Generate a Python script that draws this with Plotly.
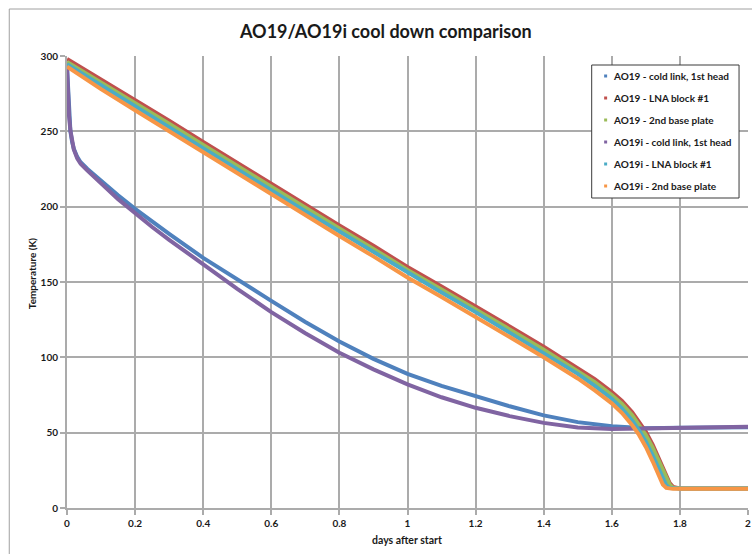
import plotly.graph_objects as go

# ---- data -------------------------------------------------------------
# warm-stage sensors (LNA block #1, 2nd base plate)
days_warm = [0, 0.1, 0.2, 0.3, 0.4, 0.5, 0.6, 0.7, 0.8, 0.9, 1.0, 1.1, 1.2, 1.3,
             1.4, 1.45, 1.5, 1.55, 1.6, 1.63, 1.66, 1.68, 1.7, 1.72, 1.74, 1.75,
             1.76, 1.77, 1.78, 1.79, 1.8, 1.9, 2.0]
ao19_lna = [298, 284.5, 271, 257, 243, 229, 215, 201, 187.5, 174, 160, 147, 134,
            120.5, 107, 100, 93, 85.5, 77, 71, 63.5, 57.5, 50.5, 42, 32, 26.5,
            21, 16.5, 14, 13.2, 13, 13, 13]
ao19_base = [296, 282.5, 269, 255, 241, 227, 213, 199, 185.5, 172, 158, 145, 132,
             118.5, 105, 98, 91, 83.5, 75, 69, 61.5, 55.5, 48.5, 40, 30, 25,
             19.5, 15.5, 13.5, 13.1, 13, 13, 13]
ao19i_lna = [294.5, 280.5, 267, 253, 239, 225, 211, 197, 183.5, 170, 156, 143, 130,
             116.5, 103, 96, 89, 81, 72.5, 66, 58, 51.5, 44, 35, 24.5, 19.5,
             15, 13.3, 13, 13, 13, 13, 13]
ao19i_base = [293, 278, 264, 250, 236, 222, 208, 194, 180.5, 167, 153, 140, 127,
              113.5, 100, 93, 86, 78, 69.5, 63, 55, 48.5, 40.5, 31, 20, 15.5,
              13.3, 12.8, 12.7, 12.7, 12.7, 12.7, 12.7]

# cold link, 1st head
days_cold = [0, 0.003, 0.006, 0.01, 0.015, 0.02, 0.03, 0.04, 0.06, 0.08, 0.1,
             0.15, 0.2, 0.25, 0.3, 0.4, 0.5, 0.6, 0.7, 0.8, 0.9, 1.0, 1.1, 1.2,
             1.3, 1.4, 1.5, 1.6, 1.7, 1.8, 1.9, 2.0]
ao19_cold = [293, 275, 260, 250, 243, 238.5, 233, 229.5, 225, 221, 217, 207.5,
             198.5, 190, 182, 166, 151.5, 137.5, 123.5, 110.5, 99, 89, 81, 74,
             67.5, 61.5, 57, 54.2, 53, 53.2, 53.4, 53.6]
ao19i_cold = [293, 275, 260, 250.5, 242.5, 238, 232, 228.5, 224, 220, 215.5, 205,
              195.5, 186.5, 178, 161.5, 145.5, 130, 116, 103, 92, 82, 73.5, 66.5,
              61, 56.5, 53.5, 52.5, 53, 53.3, 53.6, 54]

series_names = ["AO19 - cold link, 1st head", "AO19 - LNA block #1",
                "AO19 - 2nd base plate", "AO19i - cold link, 1st head",
                "AO19i - LNA block #1", "AO19i - 2nd base plate"]
series_colors = ["#4F81BD", "#C0504D", "#9BBB59", "#8064A2", "#4BACC6", "#F79646"]
series_x = [days_cold, days_warm, days_warm, days_cold, days_warm, days_warm]
series_y = [ao19_cold, ao19_lna, ao19_base, ao19i_cold, ao19i_lna, ao19i_base]

x_ticks = [0, 0.2, 0.4, 0.6, 0.8, 1, 1.2, 1.4, 1.6, 1.8, 2]
x_ticklabels = ["0", "0.2", "0.4", "0.6", "0.8", "1", "1.2", "1.4", "1.6", "1.8", "2"]
y_ticks = [0, 50, 100, 150, 200, 250, 300]

# ---- layout geometry (pixels) ----------------------------------------
W, H = 752, 554
L, R, T, B = 67, 1, 56, 46
PW, PH = W - L - R, H - T - B


def px(xp):
    return (xp - L) / PW


def py(yp):
    return (H - B - yp) / PH


FONT = "Lato"
TXT = "#1a1a1a"
GRID = "#ababab"

fig = go.Figure()
for name, color, xs, ys in zip(series_names, series_colors, series_x, series_y):
    fig.add_trace(go.Scatter(x=xs, y=ys, mode="lines", name=name,
                             line=dict(color=color, width=4),
                             showlegend=False))

shapes = [
    # outer chart frame
    dict(type="rect", xref="paper", yref="paper",
         x0=px(9), x1=px(763), y0=py(565), y1=py(9),
         line=dict(color="#a0a0a0", width=1), fillcolor="rgba(0,0,0,0)",
         layer="below"),
    # legend box
    dict(type="rect", xref="paper", yref="paper",
         x0=px(594), x1=px(742), y0=py(198), y1=py(65),
         line=dict(color="#3a3a3a", width=1), fillcolor="white", layer="above"),
]
annotations = []
for i, (name, color) in enumerate(zip(series_names, series_colors)):
    yc = 76 + 22 * i
    shapes.append(dict(type="rect", xref="paper", yref="paper",
                       x0=px(606.5), x1=px(609.5), y0=py(yc + 1.5), y1=py(yc - 1.5),
                       line=dict(width=0), fillcolor=color, layer="above"))
    annotations.append(dict(text=name, xref="paper", yref="paper",
                            x=px(613), y=py(yc), xanchor="left", yanchor="middle",
                            showarrow=False,
                            font=dict(family=FONT, size=10, color=TXT, weight="bold")))

annotations += [
    dict(text="AO19/AO19i cool down comparison", xref="paper", yref="paper",
         x=px(386.5), y=py(31), xanchor="center", yanchor="middle",
         showarrow=False,
         font=dict(family=FONT, size=18, color=TXT, weight="bold")),
    dict(text="Temperature (K)", xref="paper", yref="paper",
         x=px(31.5), y=py(273.5), xanchor="center", yanchor="middle",
         textangle=-90, showarrow=False,
         font=dict(family=FONT, size=10, color=TXT, weight="bold")),
    dict(text="days after start", xref="paper", yref="paper",
         x=px(408.5), y=py(540), xanchor="center", yanchor="middle",
         showarrow=False,
         font=dict(family=FONT, size=10.5, color=TXT, weight="bold")),
]

axis_common = dict(showgrid=True, gridcolor=GRID, gridwidth=2,
                   showline=True, linecolor=GRID, linewidth=2,
                   ticks="outside", ticklen=5, tickwidth=2, tickcolor=GRID,
                   zeroline=False, ticklabeloverflow="allow",
                   tickfont=dict(family=FONT, size=10, color=TXT, weight="bold"))

fig.update_layout(
    width=W, height=H, autosize=False,
    margin=dict(l=L, r=R, t=T, b=B, pad=0),
    paper_bgcolor="white", plot_bgcolor="white",
    xaxis=dict(range=[0, 2], tickvals=x_ticks, ticktext=x_ticklabels, **axis_common),
    yaxis=dict(range=[0, 300], tickvals=y_ticks, **axis_common),
    shapes=shapes, annotations=annotations, showlegend=False,
)

fig.write_html("out.html")
